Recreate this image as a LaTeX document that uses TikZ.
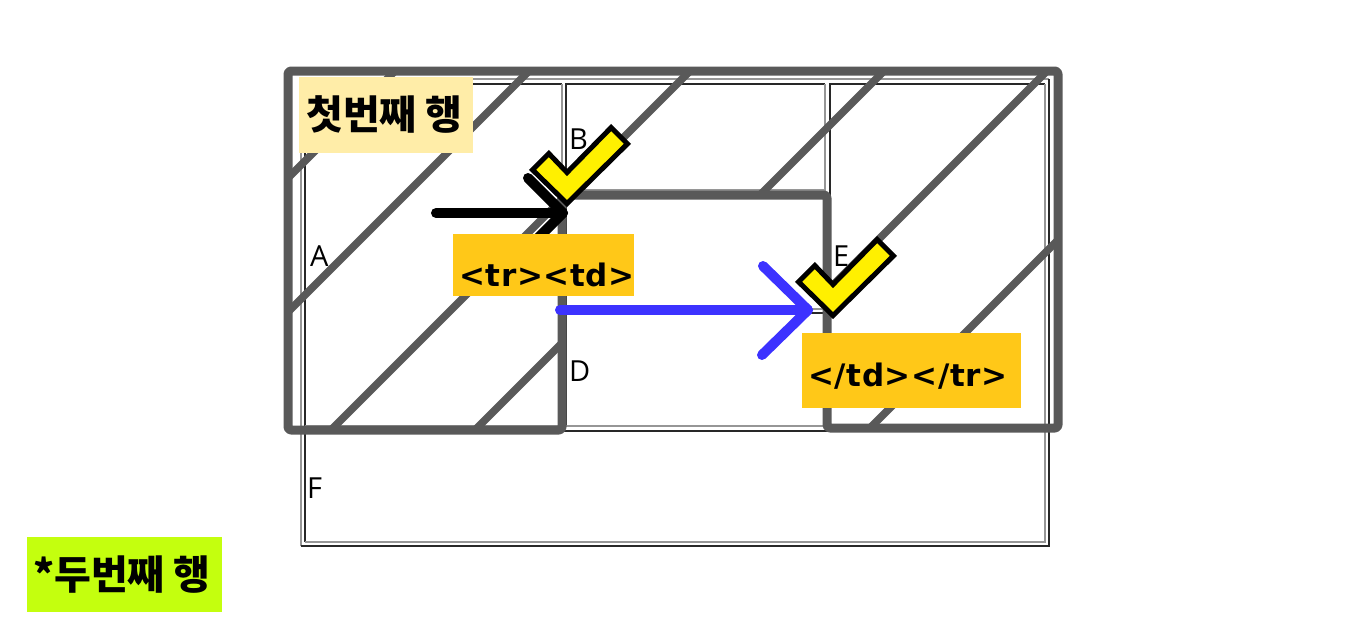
\documentclass[tikz,border=0pt]{standalone}
\usepackage{fontspec}
\setmainfont{Open Sans}
\newfontfamily\krfont{Noto Sans CJK KR}
\newfontfamily\tagfont{DejaVu Sans}[LetterSpace=2]
\definecolor{shapegrey}{RGB}{89,89,89}
\definecolor{tdark}{RGB}{40,40,40}
\definecolor{tlight}{RGB}{150,150,150}
\definecolor{paleyellow}{RGB}{255,237,168}
\definecolor{limegreen}{RGB}{196,255,14}
\definecolor{tagorange}{RGB}{255,200,24}
\definecolor{chkyellow}{RGB}{255,240,0}
\definecolor{arrowblue}{RGB}{60,50,255}
\newcommand\insetcell[4]{%
  \draw[tabledark] (#1,#4) -- (#1,#2) -- (#3,#2);
  \draw[tablelight] (#3,#2) -- (#3,#4) -- (#1,#4);}
\begin{document}
\begin{tikzpicture}[x=1pt,y=-1pt,
  tabledark/.style={draw=tdark,line width=1.6pt},
  tablelight/.style={draw=tlight,line width=1.6pt},
  celllabel/.style={inner sep=0pt,anchor=base west,font=\fontsize{29}{29}\selectfont},
  hatch/.style={draw=shapegrey,line width=7.5pt},
  outline/.style={draw=shapegrey,line width=9pt,rounded corners=3pt,line join=round},
  krbox/.style={inner sep=0pt,anchor=north west},
  krtext/.style={inner sep=0pt,anchor=west,font=\krfont\bfseries\fontsize{40}{40}\selectfont},
  tagbox/.style={fill=tagorange,inner sep=0pt,anchor=north west},
  tagtext/.style={inner sep=0pt,anchor=base west,font=\tagfont\bfseries\fontsize{31}{31}\selectfont},
  blackarrow/.style={draw=black,line width=10pt,line cap=round,line join=round},
  bluearrow/.style={draw=arrowblue,line width=10pt,line cap=round,line join=round},
  checkpic/.pic={
    \filldraw[fill=chkyellow,draw=black,line width=5pt,line join=miter]
      (-34.5,-18.2) -- (0,15.5) -- (60.5,-44.2) -- (44.2,-60.5)
      -- (0,-15.5) -- (-18.2,-34.5) -- cycle;}
]
\useasboundingbox (0,0) rectangle (1350,629);
% table outer (outset)
\draw[tablelight] (301,546) -- (301,79) -- (1049,79);
\draw[tabledark] (1049,79) -- (1049,546) -- (301,546);
% cells (inset)
\insetcell{305}{84}{562}{426}
\insetcell{566}{84}{825}{190}
\insetcell{566}{194}{825}{309}
\insetcell{566}{313}{825}{426}
\insetcell{830}{84}{1045}{426}
\insetcell{305}{431}{1045}{542}
% cell labels
\node[celllabel] (lA) at (310,266) {A};
\node[celllabel] (lB) at (569,149) {B};
\node[celllabel] (lD) at (569,381) {D};
\node[celllabel] (lE) at (833,266) {E};
\node[celllabel] (lF) at (307,498) {F};
% hatch lines
\draw[hatch] (395,71) -- (288,178);
\draw[hatch] (529,71) -- (288,312);
\draw[hatch] (690,71) -- (331,430);
\draw[hatch] (562,343) -- (475,430);
\draw[hatch] (884,71) -- (760,195);
\draw[hatch] (1047,71) -- (827,291);
\draw[hatch] (1058,240) -- (870,428);
% thick outline
\draw[outline] (288,71) -- (1058,71) -- (1058,428) -- (827,428) -- (827,195)
  -- (562,195) -- (562,430) -- (288,430) -- cycle;
% black arrow
\coordinate (bs) at (436,213);
\coordinate (bt) at (563,213);
\coordinate (bu) at (528,178);
\coordinate (bd) at (528,248);
\draw[blackarrow] (bs) -- (bt);
\draw[blackarrow] (bu) -- (bt) -- (bd);
% label boxes
\node[krbox,fill=paleyellow,minimum width=174pt,minimum height=76pt] (firstbox) at (299,77) {};
\node[krtext] (firsttext) at (306,114.5) {첫번째 행};
\node[krbox,fill=limegreen,minimum width=195pt,minimum height=75pt] (secondbox) at (27,537) {};
\node[krtext] (secondtext) at (33,575) {*두번째 행};
\node[tagbox,minimum width=181pt,minimum height=62pt] (tagone) at (453,234) {};
\node[tagtext] (tagonetext) at (459,286) {<tr><td>};
\node[tagbox,minimum width=219pt,minimum height=75pt] (tagtwo) at (802,333) {};
\node[tagtext] (tagtwotext) at (808,386) {</td></tr>};
% check marks
\pic at (567,188) {checkpic};
\pic at (833,300) {checkpic};
% blue arrow
\coordinate (us) at (560,310);
\coordinate (ut) at (808,310);
\coordinate (uu) at (763,266);
\coordinate (ud) at (762,355);
\draw[bluearrow] (us) -- (ut);
\draw[bluearrow] (uu) -- (ut) -- (ud);
\end{tikzpicture}
\end{document}
